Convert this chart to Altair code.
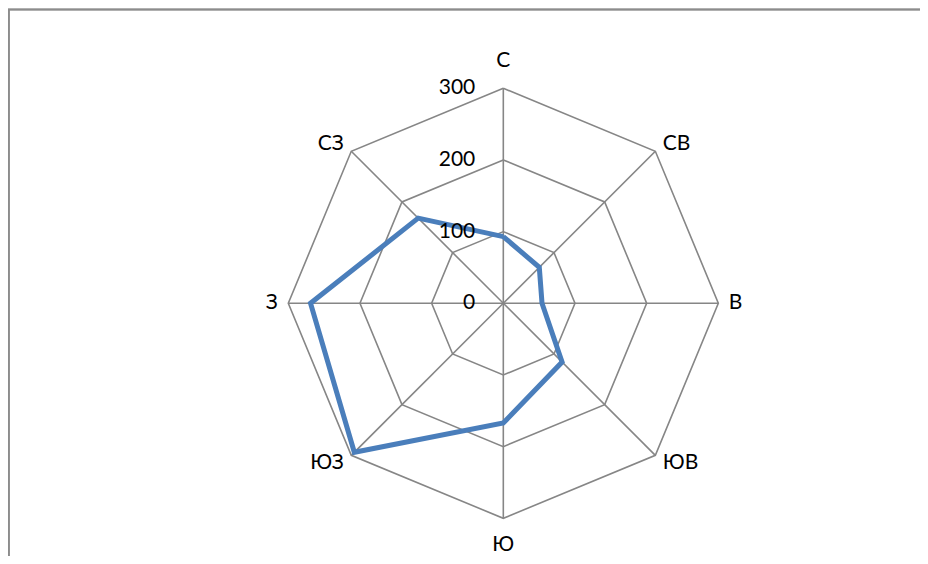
import altair as alt
import pandas as pd

directions = ["С", "СВ", "В", "ЮВ", "Ю", "ЮЗ", "З", "СЗ"]
values = [93, 71, 54, 116, 167, 294, 269, 168]
ticks = [0, 100, 200, 300]
rings = [100, 200, 300]

W, H = 912, 548
xs = alt.Scale(domain=[-691.1, 581.4], nice=False, zero=False)
ys = alt.Scale(domain=[-352.6, 412.0], nice=False, zero=False)
FONT = "Lato"
FS = 21
GRID = "#868686"

n = len(directions)
line_df = pd.DataFrame({
    "i": list(range(n)) + [0],
    "v": values + [values[0]],
    "o": list(range(n + 1)),
})
ring_df = pd.DataFrame(
    [{"ring": r, "i": k % n, "o": k} for r in rings for k in range(n + 1)]
)
spoke_df = pd.DataFrame({"i": list(range(n)), "r": [max(ticks)] * n})
lab_df = pd.DataFrame({"i": list(range(n)), "d": directions})
tick_df = pd.DataFrame({"t": ticks, "s": [str(t) for t in ticks]})

X = alt.X("x:Q", scale=xs, axis=None)
Y = alt.Y("y:Q", scale=ys, axis=None)

rings_layer = alt.Chart(ring_df).transform_calculate(
    x="datum.ring*sin(datum.i*PI/4)", y="datum.ring*cos(datum.i*PI/4)"
).mark_line(color=GRID, strokeWidth=1.6).encode(
    x=X, y=Y, detail="ring:N", order="o:Q"
)

spokes = alt.Chart(spoke_df).transform_calculate(
    x0="0", y0="0",
    x="datum.r*sin(datum.i*PI/4)", y="datum.r*cos(datum.i*PI/4)"
).mark_rule(color=GRID, strokeWidth=1.6).encode(
    x=alt.X("x0:Q", scale=xs, axis=None),
    y=alt.Y("y0:Q", scale=ys, axis=None),
    x2="x:Q", y2="y:Q",
)

series = alt.Chart(line_df).transform_calculate(
    x="datum.v*sin(datum.i*PI/4)", y="datum.v*cos(datum.i*PI/4)"
).mark_line(color="#4A7EBB", strokeWidth=5, strokeJoin="miter").encode(
    x=X, y=Y, order="o:Q"
)

def lab_layer(filt, align, rl):
    return alt.Chart(lab_df).transform_filter(filt).transform_calculate(
        x=f"{rl}*sin(datum.i*PI/4)", y=f"{rl}*cos(datum.i*PI/4)"
    ).mark_text(align=align, baseline="middle", font=FONT, fontSize=FS,
                color="#000000").encode(x=X, y=Y, text="d:N")

lab_c = lab_layer("datum.i == 0 || datum.i == 4", "center", 337.7)
lab_l = lab_layer("datum.i >= 1 && datum.i <= 3", "left", 314.6)
lab_r = lab_layer("datum.i >= 5", "right", 314.6)

tick_layer = alt.Chart(tick_df).transform_calculate(x="0", y="datum.t").mark_text(
    align="right", baseline="middle", dx=-28, font=FONT, fontSize=FS, color="#000000"
).encode(x=X, y=Y, text="s:N")

frame_top = alt.Chart(tick_df).mark_rule(color="#8c8c8c", strokeWidth=1.5).encode(
    x=alt.value(0), x2=alt.value(W), y=alt.value(1.5)
)
frame_left = alt.Chart(tick_df).mark_rule(color="#8c8c8c", strokeWidth=1.5).encode(
    x=alt.value(0.75), y=alt.value(1), y2=alt.value(H)
)

chart = alt.layer(
    frame_top, frame_left, spokes, rings_layer, series, tick_layer, lab_c, lab_l, lab_r
).properties(
    width=W, height=H, padding=0, autosize=alt.AutoSizeParams(type="none"),
    background="white"
).configure_view(stroke=None)

chart.save("out.html", embed_options={"renderer": "svg", "actions": False})
